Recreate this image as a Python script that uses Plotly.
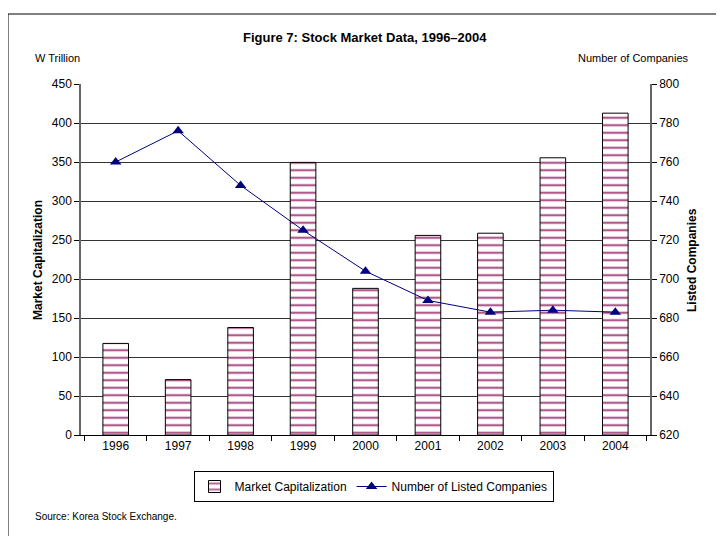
import plotly.graph_objects as go

years = ["1996", "1997", "1998", "1999", "2000", "2001", "2002", "2003", "2004"]
market_cap = [117.4, 71.0, 137.8, 349.5, 188.0, 255.9, 258.7, 355.4, 412.6]
listed_companies = [760, 776, 748, 725, 704, 689, 683, 684, 683]

FONT = "Liberation Sans, Arial, sans-serif"
PW, PH = 569.0, 351.0  # plot area size in px
# screen coordinates -> paper coordinates (plot area at screen x 81..650, y 84..435)
def px(sx):
    return (sx - 81) / PW
def py(sy):
    return (435 - sy) / PH

fig = go.Figure()
fig.add_trace(go.Bar(
    x=years, y=market_cap, name="Market Capitalization",
    width=0.41,
    marker=dict(color="white",
                line=dict(color="black", width=1),
                pattern=dict(shape="-", fgcolor="#B05A8C", bgcolor="white",
                             size=7.5, solidity=0.3)),
    yaxis="y",
))
fig.add_trace(go.Scatter(
    x=years, y=listed_companies, name="Number of Listed Companies",
    mode="lines+markers",
    line=dict(color="#000080", width=1),
    marker=dict(symbol="triangle-up", size=10, color="#000080"),
    yaxis="y2",
))

fig.update_layout(
    template="none",
    width=724, height=536,
    margin=dict(l=73, r=82, t=76, b=109, autoexpand=False),
    paper_bgcolor="white", plot_bgcolor="white",
    font=dict(family=FONT, size=12, color="black"),
    showlegend=True,
    legend=dict(orientation="h", xref="container", yref="container",
                x=365.5 / 724, xanchor="center", y=1 - 463 / 536, yanchor="top",
                bordercolor="black", borderwidth=1, bgcolor="white",
                font=dict(size=12, family=FONT),
                itemwidth=30, tracegroupgap=0),
    xaxis=dict(
        type="category", automargin=False,
        showline=True, linecolor="black", linewidth=1,
        ticks="outside", ticklen=5, tickcolor="black",
        tickson="boundaries",
        showgrid=False,
        tickfont=dict(size=12),
    ),
    yaxis=dict(
        range=[0, 450], dtick=50, automargin=False,
        showline=True, linecolor="#666", linewidth=1.5,
        ticks="outside", ticklen=5, tickcolor="black",
        showgrid=True, gridcolor="#333", gridwidth=1,
        zeroline=False,
        tickfont=dict(size=12),
    ),
    yaxis2=dict(
        range=[620, 800], dtick=20, automargin=False,
        overlaying="y", side="right",
        showline=True, linecolor="#666", linewidth=1.5,
        ticks="outside", ticklen=5, tickcolor="black",
        showgrid=False, zeroline=False,
        tickfont=dict(size=12),
    ),
    annotations=[
        dict(text="<b>Figure 7: Stock Market Data, 1996\u20132004</b>",
             xref="paper", yref="paper", x=px(365), y=py(38),
             showarrow=False, font=dict(size=13), xanchor="center", yanchor="middle"),
        dict(text="W Trillion", xref="paper", yref="paper", x=px(33),
             y=py(58), showarrow=False, font=dict(size=11),
             xanchor="left", yanchor="middle"),
        dict(text="Number of Companies", xref="paper", yref="paper", x=px(691),
             y=py(58), showarrow=False, font=dict(size=11),
             xanchor="right", yanchor="middle"),
        dict(text="<b>Market Capitalization</b>", xref="paper", yref="paper",
             x=px(38), y=py(260), textangle=-90,
             showarrow=False, font=dict(size=12), xanchor="center", yanchor="middle"),
        dict(text="<b>Listed Companies</b>", xref="paper", yref="paper",
             x=px(692), y=py(260), textangle=-90,
             showarrow=False, font=dict(size=12), xanchor="center", yanchor="middle"),
        dict(text="Source: Korea Stock Exchange.", xref="paper", yref="paper",
             x=px(33), y=py(517), showarrow=False, font=dict(size=10),
             xanchor="left", yanchor="middle"),
    ],
    shapes=[
        dict(type="rect", xref="paper", yref="paper",
             x0=px(8), x1=px(760), y0=py(560), y1=py(14),
             line=dict(color="black", width=1), fillcolor="rgba(0,0,0,0)",
             layer="below"),
    ],
)

fig.write_html("out.html")
